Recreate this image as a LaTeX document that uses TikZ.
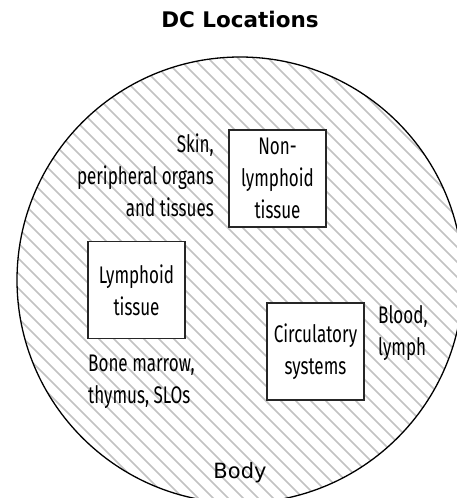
\documentclass[tikz,border=0pt]{standalone}
\usepackage{fontspec}
\newfontfamily\condfont[FakeStretch=0.71]{Fira Sans}
\newfontfamily\humfont{DejaVu Sans}
\tikzset{
  box/.style={draw=black!85, line width=1.2pt, fill=white, minimum width=97pt,
    minimum height=97pt, inner sep=0pt, align=center,
    font=\condfont\fontsize{24}{32}\selectfont},
  lbl/.style={inner sep=0pt, font=\condfont\fontsize{24}{32}\selectfont},
  hatch/.style={black!24, line width=1.5pt},
  titlelbl/.style={inner sep=0pt, font=\humfont\bfseries\fontsize{21.5}{25}\selectfont},
  bodylbl/.style={inner sep=0pt, font=\humfont\fontsize{21}{25}\selectfont},
}
\begin{document}
\begin{tikzpicture}[x=1pt, y=-1pt]
\useasboundingbox (0,0) rectangle (457,498);
\clip (0,0) rectangle (457,498);
\coordinate (bc) at (240,280);
\begin{scope}
  \clip (bc) circle[radius=223pt];
  \foreach \c in {-495,-480,...,420} \draw[hatch] (\c,0) -- ++(520,520);
\end{scope}
\draw[black, line width=1.3pt] (bc) circle[radius=223pt];
\node[titlelbl, anchor=base] (title) at (240,27.5) {DC Locations};
\node[box] (nonlym) at (277.5,178.5) {Non-\\lymphoid\\tissue};
\node[box] (lym) at (136.5,290) {Lymphoid\\tissue};
\node[box] (circ) at (315.5,351.5) {Circulatory\\systems};
\node[lbl, align=right, anchor=east] (skin) at (214,175.6) {Skin,\\peripheral organs\\and tissues};
\node[lbl, align=left, anchor=west] (bone) at (88,381.8) {Bone marrow,\\thymus, SLOs};
\node[lbl, align=left, anchor=west] (blood) at (378,332.6) {Blood,\\lymph};
\node[bodylbl, anchor=base] (body) at (240,478) {Body};
\end{tikzpicture}
\end{document}
